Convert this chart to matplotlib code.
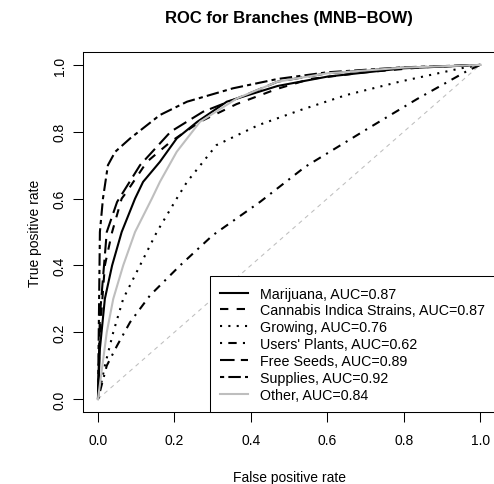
import numpy as np
import matplotlib
matplotlib.use('Agg')
import matplotlib.pyplot as plt

plt.rcParams['font.family'] = ['Liberation Sans', 'DejaVu Sans']

labels = ['Marijuana, AUC=0.87', 'Cannabis Indica Strains, AUC=0.87', 'Growing, AUC=0.76',
          "Users' Plants, AUC=0.62", 'Free Seeds, AUC=0.89', 'Supplies, AUC=0.92', 'Other, AUC=0.84']

fpr_marijuana = [0, 0.005, 0.018, 0.037, 0.062, 0.097, 0.118, 0.162, 0.206, 0.26, 0.337, 0.47, 0.6, 0.8, 1.0]
tpr_marijuana = [0, 0.15, 0.30, 0.40, 0.50, 0.60, 0.65, 0.71, 0.78, 0.83, 0.89, 0.937, 0.965, 0.99, 1.0]

fpr_cannabis = [0, 0.005, 0.018, 0.037, 0.062, 0.075, 0.128, 0.19, 0.267, 0.363, 0.468, 0.555, 0.7, 0.85, 1.0]
tpr_cannabis = [0, 0.2, 0.40, 0.50, 0.60, 0.62, 0.71, 0.77, 0.83, 0.883, 0.928, 0.958, 0.978, 0.993, 1.0]

fpr_growing = [0, 0.018, 0.04, 0.066, 0.11, 0.154, 0.206, 0.233, 0.31, 0.42, 0.53, 0.65, 0.79, 0.95, 1.0]
tpr_growing = [0, 0.1, 0.2, 0.3, 0.4, 0.5, 0.6, 0.65, 0.76, 0.82, 0.865, 0.91, 0.95, 0.99, 1.0]

fpr_users = [0, 0.023, 0.05, 0.084, 0.136, 0.215, 0.30, 0.424, 0.542, 0.704, 0.835, 0.966, 1.0]
tpr_users = [0, 0.1, 0.16, 0.23, 0.31, 0.40, 0.49, 0.59, 0.695, 0.808, 0.898, 0.982, 1.0]

fpr_seeds = [0, 0.005, 0.023, 0.05, 0.11, 0.19, 0.275, 0.38, 0.47, 0.6, 0.8, 1.0]
tpr_seeds = [0, 0.25, 0.50, 0.59, 0.70, 0.80, 0.86, 0.907, 0.95, 0.975, 0.992, 1.0]

fpr_supplies = [0, 0.003, 0.005, 0.013, 0.026, 0.045, 0.084, 0.162, 0.233, 0.353, 0.47, 0.6, 0.8, 1.0]
tpr_supplies = [0, 0.3, 0.5, 0.6, 0.7, 0.74, 0.78, 0.85, 0.89, 0.93, 0.958, 0.978, 0.993, 1.0]

fpr_other = [0, 0.023, 0.04, 0.066, 0.097, 0.141, 0.162, 0.206, 0.267, 0.364, 0.47, 0.6, 0.8, 1.0]
tpr_other = [0, 0.2, 0.30, 0.40, 0.50, 0.60, 0.65, 0.74, 0.83, 0.90, 0.95, 0.975, 0.992, 1.0]

fig = plt.figure(figsize=(4.94, 4.85), dpi=100)
# plot box runs past the right edge, like the cropped original
ax = fig.add_axes([0.1674, 0.1476, 0.8355, 0.744])

ax.plot([0, 1], [0, 1], color='#BEBEBE', lw=0.75, dashes=(4, 4))

lw = 1.5
ax.plot(fpr_marijuana, tpr_marijuana, color='black', lw=lw, label=labels[0])
ax.plot(fpr_cannabis, tpr_cannabis, color='black', lw=lw, dashes=(4, 4), label=labels[1])
ax.plot(fpr_growing, tpr_growing, color='black', lw=lw, dashes=(1, 3), label=labels[2])
ax.plot(fpr_users, tpr_users, color='black', lw=lw, dashes=(1, 3, 4, 3), label=labels[3])
ax.plot(fpr_seeds, tpr_seeds, color='black', lw=lw, dashes=(7, 3), label=labels[4])
ax.plot(fpr_supplies, tpr_supplies, color='black', lw=lw, dashes=(2, 2, 6, 2), label=labels[5])
ax.plot(fpr_other, tpr_other, color='#BEBEBE', lw=lw, label=labels[6])

ax.set_xlim(-0.04, 1.04)
ax.set_ylim(-0.04, 1.04)
ticks = [0.0, 0.2, 0.4, 0.6, 0.8, 1.0]
ax.set_xticks(ticks)
ax.set_yticks(ticks)
ax.set_xticklabels(['%.1f' % t for t in ticks])
ax.set_yticklabels(['%.1f' % t for t in ticks], rotation=90, va='center')
ax.tick_params(length=7, width=0.75, labelsize=10)
ax.tick_params(axis='x', pad=7.5)
ax.tick_params(axis='y', pad=4.5)

for s in ax.spines.values():
    s.set_linewidth(0.75)
    s.set_color('black')

ax.set_xlabel('False positive rate', fontsize=10, labelpad=17)
ax.set_ylabel('True positive rate', fontsize=10, labelpad=7.5)
ax.set_title('ROC for Branches (MNB\u2212BOW)', fontsize=12, fontweight='bold', pad=21)

leg = ax.legend(loc='lower right', fontsize=10.3, frameon=True, fancybox=False,
                edgecolor='black', framealpha=1, borderaxespad=0, borderpad=0.75,
                handlelength=1.9, handletextpad=0.85, labelspacing=0.2)
leg.get_frame().set_linewidth(0.75)

fig.savefig('out.png', dpi=100)
